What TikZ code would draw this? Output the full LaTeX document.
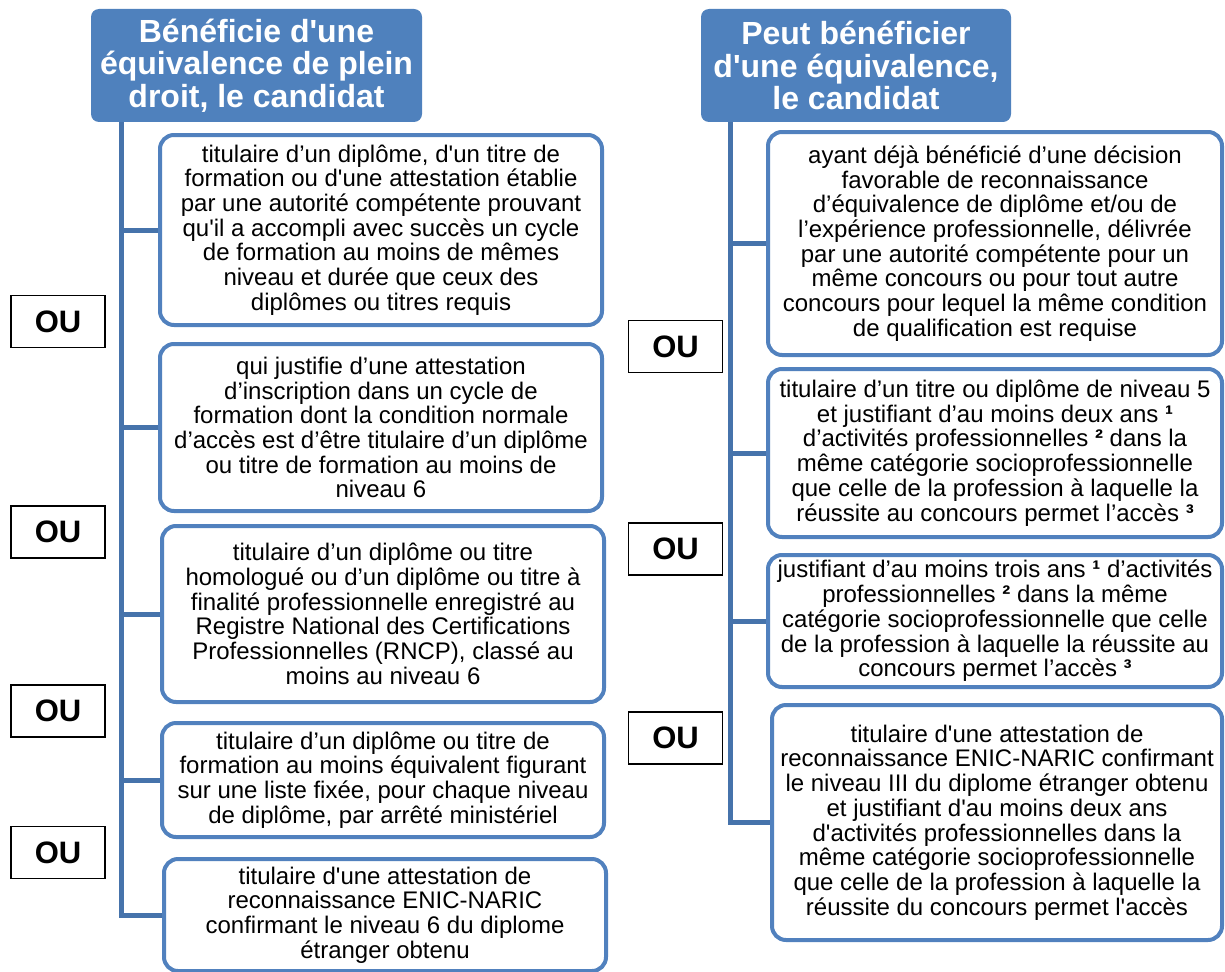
\documentclass[tikz,border=0pt]{standalone}
\usepackage{fontspec}
\setmainfont{Liberation Sans}[Ligatures=TeXOff]
\definecolor{hdrblue}{HTML}{4F81BD}
\definecolor{boxblue}{HTML}{5181BE}
\definecolor{linkblue}{HTML}{4673AB}
\newcommand{\fnref}[1]{\textbf{#1}}

\begin{document}
\begin{tikzpicture}[x=1pt,y=-1pt,
  hdr/.style={fill=hdrblue, rounded corners=8pt, text=white, align=center,
    font=\bfseries\fontsize{32}{32.5}\selectfont, minimum height=113pt},
  item/.style={draw=boxblue, line width=4pt, rounded corners=14pt, fill=white,
    align=center, inner sep=0pt, font=\fontsize{24}{24.7}\selectfont},
  litem/.style={item, minimum width=442pt},
  ritem/.style={item, minimum width=454pt},
  ou/.style={draw=black, line width=1.4pt, minimum width=94pt, minimum height=52pt,
    inner sep=0pt, font=\bfseries\fontsize{31}{31}\selectfont},
  trunk/.style={draw=linkblue, line width=5pt}]
  \useasboundingbox (0,0) rectangle (1225,971);

  \node[hdr, minimum width=331pt] (hl) at (256.5,65.5)
    {Bénéficie d'une\\équivalence de plein\\droit, le candidat};
  \node[hdr, minimum width=310pt] (hr) at (856,65.5)
    {Peut bénéficier\\d'une équivalence,\\le candidat};

  \node[litem, minimum height=190pt] (l1) at (381,230)
    {titulaire d’un diplôme, d'un titre de\\formation ou d'une attestation établie\\par une autorité compétente prouvant\\qu'il a accompli avec succès un cycle\\de formation au moins de mêmes\\niveau et durée que ceux des\\diplômes ou titres requis};
  \node[litem, minimum height=167pt] (l2) at (381,427.5)
    {qui justifie d’une attestation\\d’inscription dans un cycle de\\formation dont la condition normale\\d’accès est d’être titulaire d’un diplôme\\ou titre de formation au moins de\\niveau 6};
  \node[litem, minimum height=176pt] (l3) at (383,614)
    {titulaire d’un diplôme ou titre\\homologué ou d’un diplôme ou titre à\\finalité professionnelle enregistré au\\Registre National des Certifications\\Professionnelles (RNCP), classé au\\moins au niveau 6};
  \node[litem, minimum height=114pt] (l4) at (383,780)
    {titulaire d’un diplôme ou titre de\\formation au moins équivalent figurant\\sur une liste fixée, pour chaque niveau\\de diplôme, par arrêté ministériel};
  \node[litem, minimum height=112pt] (l5) at (385,915)
    {titulaire d'une attestation de\\reconnaissance ENIC-NARIC\\confirmant le niveau 6 du diplome\\étranger obtenu};

  \node[ritem, minimum height=223pt] (r1) at (995,243.5)
    {ayant déjà bénéficié d’une décision\\favorable de reconnaissance\\d’équivalence de diplôme et/ou de\\l’expérience professionnelle, délivrée\\par une autorité compétente pour un\\même concours ou pour tout autre\\concours pour lequel la même condition\\de qualification est requise};
  \node[ritem, minimum height=168pt] (r2) at (995,453)
    {titulaire d’un titre ou diplôme de niveau 5\\et justifiant d’au moins deux ans \fnref{¹}\\d’activités professionnelles \fnref{²} dans la\\même catégorie socioprofessionnelle\\que celle de la profession à laquelle la\\réussite au concours permet l’accès \fnref{³}};
  \node[ritem, minimum height=132pt] (r3) at (995,621)
    {justifiant d’au moins trois ans \fnref{¹} d’activités\\professionnelles \fnref{²} dans la même\\catégorie socioprofessionnelle que celle\\de la profession à laquelle la réussite au\\concours permet l’accès \fnref{³}};
  \node[item, minimum width=450pt, minimum height=235pt] (r4) at (997,822.5)
    {titulaire d'une attestation de\\reconnaissance ENIC-NARIC confirmant\\le niveau III du diplome étranger obtenu\\et justifiant d'au moins deux ans\\d'activités professionnelles dans la\\même catégorie socioprofessionnelle\\que celle de la profession à laquelle la\\réussite du concours permet l'accès};

  \node[ou] (ou1) at (58,321.5) {OU};
  \node[ou] (ou2) at (58,532) {OU};
  \node[ou] (ou3) at (58,711) {OU};
  \node[ou] (ou4) at (58,852.5) {OU};
  \node[ou] (ou5) at (675.5,346.5) {OU};
  \node[ou] (ou6) at (675.5,549) {OU};
  \node[ou] (ou7) at (675.5,738) {OU};

  \coordinate (lroot) at (hl.south -| 121,0);
  \coordinate (rroot) at (hr.south -| 730,0);
  \draw[trunk] (lroot) |- (l1.west) (lroot) |- (l2.west) (lroot) |- (l3.west)
    (lroot) |- (l4.west) (lroot) |- (l5.west);
  \draw[trunk] (rroot) |- (r1.west) (rroot) |- (r2.west) (rroot) |- (r3.west)
    (rroot) |- (r4.west);
\end{tikzpicture}
\end{document}
